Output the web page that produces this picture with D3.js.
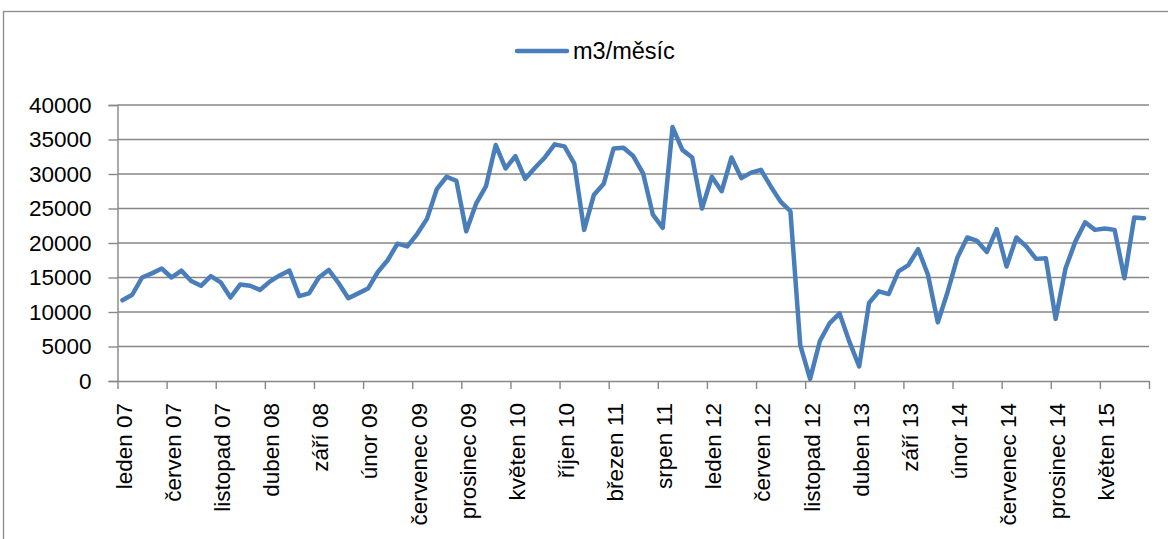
<!DOCTYPE html>
<html>
<head>
<meta charset="utf-8">
<script src="https://cdn.jsdelivr.net/npm/d3@7"></script>
<style>
  html, body { margin: 0; padding: 0; background: #fff; }
  svg { display: block; }
  text { font-family: "Liberation Sans", Arial, sans-serif; fill: #000; }
</style>
</head>
<body>
<svg id="chart" width="1168" height="539"></svg>
<script>
// Monthly consumption (m3/měsíc), leden 2007 – září 2015
const monthNames = ["leden", "únor", "březen", "duben", "květen", "červen",
  "červenec", "srpen", "září", "říjen", "listopad", "prosinec"];
const startYear = 7;
const seriesName = "m3/měsíc";
const values = [
  11700, 12500, 15000, 15600, 16300, 15000, 16000, 14500, 13800, 15200, 14300, 12100,
  14000, 13800, 13200, 14400, 15300, 16000, 12300, 12700, 15000, 16100, 14200, 12000,
  12700, 13400, 15800, 17500, 19900, 19500, 21300, 23500, 27800, 29600, 29000, 21700,
  25700, 28200, 34200, 30800, 32600, 29300, 30900, 32400, 34300, 34000, 31500, 21900,
  27000, 28600, 33700, 33800, 32600, 30100, 24100, 22200, 36800, 33500, 32400, 25000,
  29600, 27500, 32400, 29400, 30200, 30600, 28200, 26000, 24600, 5200, 300, 5800,
  8400, 9800, 5700, 2100, 11300, 13000, 12600, 15900, 16800, 19100, 15400, 8500,
  12900, 17900, 20800, 20300, 18700, 22000, 16600, 20800, 19500, 17700, 17800, 9000,
  16300, 20200, 23000, 21900, 22100, 21900, 14900, 23700, 23600
];
const yTicks = [0, 5000, 10000, 15000, 20000, 25000, 30000, 35000, 40000];
const labelEvery = 5;

// category names such as "leden 07"
const categories = values.map((_, i) =>
  monthNames[i % 12] + " " + String(startYear + Math.floor(i / 12)).padStart(2, "0"));

const svg = d3.select("#chart");
const W = 1168, H = 539;
const plot = { left: 117.5, right: 1149, top: 105, bottom: 381 };
const lineColor = "#4a7ebb";
const gridColor = "#878787";

// chart area frame
svg.append("rect")
  .attr("x", 3.5).attr("y", 11.5)
  .attr("width", W + 10).attr("height", H + 10)
  .attr("fill", "#fff").attr("stroke", "#8a8a8a").attr("stroke-width", 1.3);

const x = d3.scaleLinear().domain([0, values.length]).range([plot.left, plot.right]);
const y = d3.scaleLinear().domain([0, 40000]).range([plot.bottom, plot.top]);

// horizontal gridlines
svg.append("g")
  .selectAll("line")
  .data(yTicks.filter(t => t > 0))
  .join("line")
  .attr("x1", plot.left).attr("x2", plot.right)
  .attr("y1", d => y(d)).attr("y2", d => y(d))
  .attr("stroke", gridColor).attr("stroke-width", 1.4);

// y axis
const yAxis = svg.append("g")
  .attr("transform", `translate(${plot.left},0)`)
  .call(d3.axisLeft(y).tickValues(yTicks).tickSize(9).tickPadding(17).tickFormat(d3.format("d")));
yAxis.select(".domain").attr("stroke", gridColor).attr("stroke-width", 1.4);
yAxis.selectAll(".tick line").attr("stroke", gridColor).attr("stroke-width", 1.4);
yAxis.selectAll("text").style("font-size", "22.5px").attr("fill", "#000");

// x axis: ticks on category boundaries, every 5 months
const boundaryTicks = d3.range(0, values.length + 1, labelEvery);
const xAxis = svg.append("g")
  .attr("transform", `translate(0,${plot.bottom})`)
  .call(d3.axisBottom(x).tickValues(boundaryTicks).tickSize(8).tickSizeOuter(0).tickFormat(""));
xAxis.select(".domain").attr("stroke", gridColor).attr("stroke-width", 1.4);
xAxis.selectAll(".tick line").attr("stroke", gridColor).attr("stroke-width", 1.4);

// rotated category labels, centred on their month
svg.append("g")
  .selectAll("text")
  .data(categories.map((c, i) => ({ c, i })).filter(d => d.i % labelEvery === 0))
  .join("text")
  .attr("transform", d => `translate(${x(d.i + 0.5)},${plot.bottom + 22}) rotate(-90)`)
  .attr("text-anchor", "end")
  .attr("dy", "0.42em")
  .style("font-size", "22.5px")
  .text(d => d.c);

// the series line
const line = d3.line()
  .x((d, i) => x(i + 0.5))
  .y(d => y(d));
svg.append("path")
  .datum(values)
  .attr("d", line)
  .attr("fill", "none")
  .attr("stroke", lineColor)
  .attr("stroke-width", 4.5)
  .attr("stroke-linejoin", "round")
  .attr("stroke-linecap", "round");

// legend
const legend = svg.append("g").attr("transform", "translate(515,51)");
legend.append("line")
  .attr("x1", 2).attr("x2", 52).attr("y1", 0).attr("y2", 0)
  .attr("stroke", lineColor).attr("stroke-width", 4.5).attr("stroke-linecap", "round");
legend.append("text")
  .attr("x", 58).attr("y", 0).attr("dy", "0.34em")
  .style("font-size", "23.5px")
  .text(seriesName);
</script>
</body>
</html>
